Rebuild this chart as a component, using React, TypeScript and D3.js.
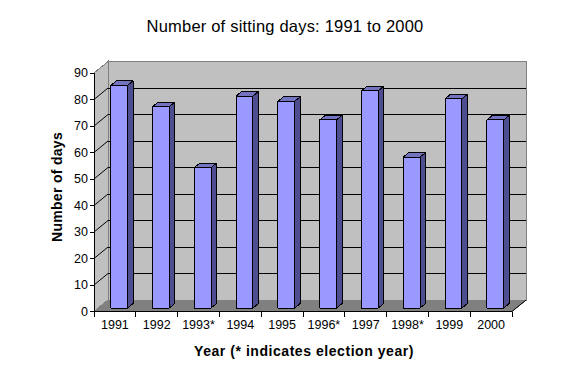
import React from "react";
import * as d3 from "d3";

const categories = ["1991", "1992", "1993*", "1994", "1995", "1996*", "1997", "1998*", "1999", "2000"];
const values = [84, 76, 53, 80, 78, 71, 82, 57, 79, 71];
const yTicks = [0, 10, 20, 30, 40, 50, 60, 70, 80, 90];

const W = 570, H = 380;
const DX = 14, DY = -11.5;
const T0 = 0.3, T1 = 0.7;
const FONT = "'Liberation Sans', Arial, sans-serif";

export default function App() {
  const x = d3.scaleBand<string>().domain(categories).range([94, 512]).paddingInner(0.6).paddingOuter(0.3);
  const xEdge = d3.scaleLinear().domain([0, categories.length]).range([94, 512]);
  const y = d3.scaleLinear().domain([0, 90]).range([311.5, 73]);
  const y0 = y(0), yTop = y(90);
  const xL = 94, xR = 512;
  const pts = (a: [number, number][]) => a.map(p => p.join(",")).join(" ");

  const bw = x.bandwidth();
  const fdx = DX * T0, fdy = DY * T0;
  const bdx = DX * (T1 - T0), bdy = DY * (T1 - T0);

  return (
    <svg width={W} height={H} style={{ position: "absolute", left: 0, top: 0, background: "#fff" }} shapeRendering="crispEdges">
      <text x={285} y={32} textAnchor="middle" fontFamily={FONT} fontSize={16.5} letterSpacing={0.2} fill="#000">Number of sitting days: 1991 to 2000</text>
      <rect x={xL + DX} y={yTop + DY} width={xR - xL} height={y0 - yTop} fill="#c0c0c0" stroke="#808080" />
      <polygon points={pts([[xL, y0], [xL, yTop], [xL + DX, yTop + DY], [xL + DX, y0 + DY]])} fill="#c0c0c0" stroke="#808080" />
      <polygon points={pts([[xL, y0], [xR, y0], [xR + DX, y0 + DY], [xL + DX, y0 + DY]])} fill="#808080" stroke="#808080" />
      <line x1={xR} y1={y0} x2={xR + DX} y2={y0 + DY} stroke="#000" shapeRendering="auto" />
      {yTicks.filter(t => t > 0 && t < 90).map(t => (
        <g key={t}>
          <line x1={xL + DX} x2={xR + DX} y1={y(t) + DY} y2={y(t) + DY} stroke="#000" />
          <line x1={xL} y1={y(t)} x2={xL + DX} y2={y(t) + DY} stroke="#000" shapeRendering="auto" />
        </g>
      ))}
      {categories.map((c, i) => {
        const v = values[i];
        const xl = (x(c) as number) + fdx;
        const xr = xl + bw;
        const yt = y(v) + fdy;
        const yb = y(0) + fdy;
        return (
          <g key={c} stroke="#000" strokeWidth={1} strokeLinejoin="round">
            <polygon points={pts([[xr, yt], [xr + bdx, yt + bdy], [xr + bdx, yb + bdy], [xr, yb]])} fill="#4d4d8f" />
            <polygon points={pts([[xl, yt], [xl + bdx, yt + bdy], [xr + bdx, yt + bdy], [xr, yt]])} fill="#7373c0" />
            <rect x={xl} y={yt} width={bw} height={yb - yt} fill="#9999ff" />
          </g>
        );
      })}
      <line x1={xL} x2={xL} y1={y0} y2={yTop} stroke="#000" />
      {yTicks.map(t => (
        <g key={t}>
          <line x1={xL - 4} x2={xL} y1={y(t)} y2={y(t)} stroke="#000" />
          <text x={88} y={y(t)} dy="0.35em" textAnchor="end" fontFamily={FONT} fontSize={12.5} fill="#000">{t}</text>
        </g>
      ))}
      <line x1={xL} x2={xR} y1={y0} y2={y0} stroke="#000" />
      {d3.range(categories.length + 1).map(i => (
        <line key={i} x1={xEdge(i)} x2={xEdge(i)} y1={y0} y2={y0 + 5} stroke="#000" />
      ))}
      {categories.map(c => (
        <text key={c} x={(x(c) as number) + bw / 2} y={329} textAnchor="middle" fontFamily={FONT} fontSize={12.5} fill="#000">{c}</text>
      ))}
      <text x={304} y={356} textAnchor="middle" fontFamily={FONT} fontSize={14} fontWeight="bold" letterSpacing={0.55} fill="#000">Year (* indicates election year)</text>
      <text transform={`translate(62,187) rotate(-90)`} textAnchor="middle" fontFamily={FONT} fontSize={14} fontWeight="bold" letterSpacing={0.3} fill="#000">Number of days</text>
    </svg>
  );
}
